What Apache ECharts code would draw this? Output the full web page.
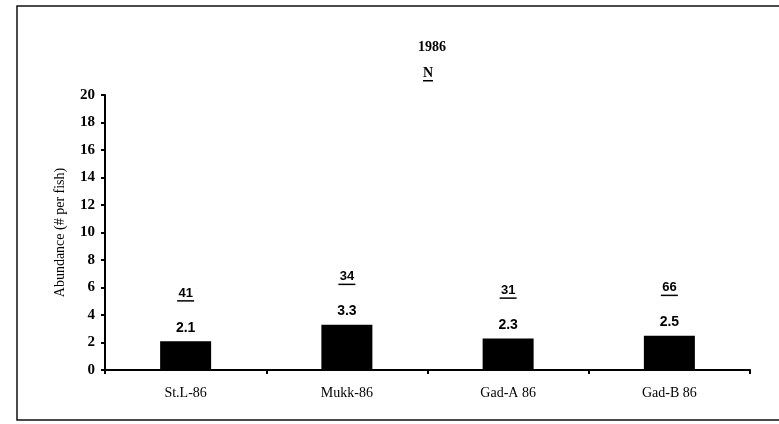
<!DOCTYPE html>
<html>
<head>
<meta charset="utf-8">
<script src="https://cdn.jsdelivr.net/npm/echarts@6/dist/echarts.min.js"></script>
<style>
  html, body { margin: 0; padding: 0; background: #fff; }
  #chart { width: 779px; height: 424px; }
</style>
</head>
<body>
<div id="chart"></div>
<script>
// sites sampled in 1986
var sites = ['St.L-86', 'Mukk-86', 'Gad-A 86', 'Gad-B 86'];
// mean abundance (# per fish)
var abundance = [2.1, 3.3, 2.3, 2.5];
// sample sizes (N) printed above bars
var sampleN = [41, 34, 31, 66];

var serif = '"Liberation Serif", "DejaVu Serif", serif';
var sans = '"Liberation Sans", Arial, sans-serif';

var chart = echarts.init(document.getElementById('chart'));

// N labels: underlined text placed above each bar
function renderN(params, api) {
    var p = api.coord([api.value(0), api.value(1)]);
    var txt = String(api.value(2));
    var w = txt.length * 7.5 + 2;
    var cy = p[1] - 48;
    return {
        type: 'group',
        children: [
            {
                type: 'text',
                style: {
                    text: txt, x: p[0], y: cy,
                    align: 'center', verticalAlign: 'middle',
                    font: 'bold 13px ' + sans, fill: '#000'
                }
            },
            {
                type: 'rect',
                shape: { x: p[0] - w / 2, y: cy + 7, width: w, height: 1.5 },
                style: { fill: '#000' }
            }
        ]
    };
}

var nData = [];
for (var i = 0; i < sites.length; i++) {
    nData.push([i, abundance[i], sampleN[i]]);
}

var option = {
    backgroundColor: '#fff',
    animation: false,
    graphic: [
        {
            type: 'rect',
            shape: { x: 17, y: 6, width: 775, height: 414 },
            style: { fill: 'none', stroke: '#111', lineWidth: 1.5 }
        },
        {
            type: 'text',
            left: 418, top: 40,
            style: { text: '1986', font: 'bold 14px ' + serif, fill: '#000' }
        },
        {
            type: 'text',
            left: 423, top: 66,
            style: { text: 'N', font: 'bold 14px ' + serif, fill: '#000' }
        },
        {
            type: 'rect',
            shape: { x: 423, y: 80, width: 10, height: 1.5 },
            style: { fill: '#000' }
        }
    ],
    grid: { left: 105, right: 29, top: 95, bottom: 54 },
    xAxis: {
        type: 'category',
        data: sites,
        axisLine: { lineStyle: { color: '#000', width: 2 } },
        axisTick: { show: true, length: 4, alignWithLabel: false, lineStyle: { color: '#000', width: 2 } },
        axisLabel: { color: '#000', fontFamily: serif, fontSize: 14, margin: 16 }
    },
    yAxis: {
        type: 'value',
        min: 0, max: 20, interval: 2,
        name: 'Abundance (# per fish)',
        nameLocation: 'middle',
        nameGap: 38,
        nameTextStyle: { color: '#000', fontFamily: serif, fontSize: 14 },
        axisLine: { show: true, lineStyle: { color: '#000', width: 2 } },
        axisTick: { show: true, length: 4, lineStyle: { color: '#000', width: 2 } },
        axisLabel: { color: '#000', fontFamily: serif, fontSize: 15, fontWeight: 'bold', margin: 10 },
        splitLine: { show: false }
    },
    series: [
        {
            type: 'bar',
            data: abundance,
            barWidth: 51,
            itemStyle: { color: '#000' },
            label: {
                show: true,
                position: 'top',
                distance: 6,
                color: '#000',
                fontFamily: sans,
                fontWeight: 'bold',
                fontSize: 14
            }
        },
        {
            type: 'custom',
            data: nData,
            renderItem: renderN,
            silent: true,
            z: 5
        }
    ]
};

chart.setOption(option);
</script>
</body>
</html>
